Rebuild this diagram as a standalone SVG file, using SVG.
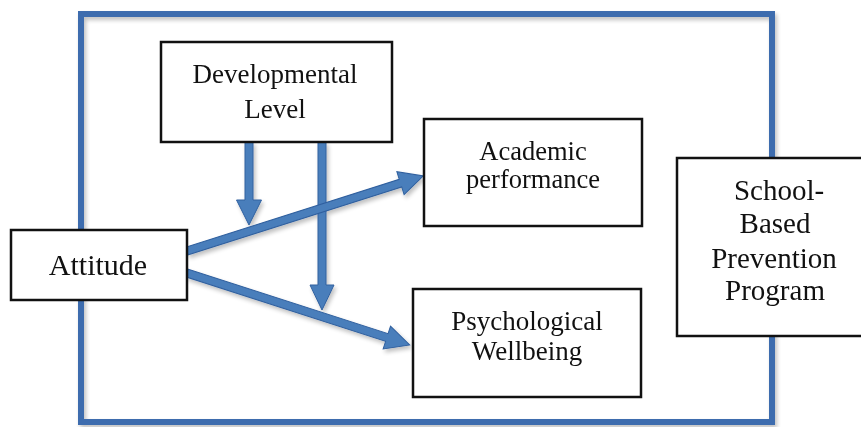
<svg xmlns="http://www.w3.org/2000/svg" width="861" height="427" viewBox="0 0 861 427">
  <defs>
    <filter id="soft" x="-10%" y="-10%" width="130%" height="130%">
      <feGaussianBlur in="SourceAlpha" stdDeviation="2"/>
      <feOffset dx="2" dy="3" result="b"/>
      <feComponentTransfer><feFuncA type="linear" slope="0.25"/></feComponentTransfer>
      <feMerge><feMergeNode/><feMergeNode in="SourceGraphic"/></feMerge>
    </filter>
  </defs>
  <style>
    .box { fill: #ffffff; stroke: #111111; stroke-width: 2.5; }
    .lbl { font-family: "Liberation Serif", "Times New Roman", serif; fill: #111111; text-anchor: middle; }
    .arrow { fill: #4a7ebb; stroke: #30609f; stroke-width: 1; }
    .frame { fill: none; stroke: #3c6cae; stroke-width: 6; }
  </style>
  <rect width="861" height="427" fill="#ffffff"/>

  <!-- outer program frame -->
  <rect class="frame" x="81" y="14" width="691" height="408" filter="url(#soft)"/>

  <!-- connectors -->
  <g id="connectors" filter="url(#soft)">
    <!-- Developmental Level to moderated path (short) -->
    <g transform="translate(249,142) rotate(90)">
      <path class="arrow" d="M0,-4 L58,-4 L58,-12.5 L83,0 L58,12.5 L58,4 L0,4 Z"/>
    </g>
    <!-- Developmental Level down to lower path -->
    <g transform="translate(322,142) rotate(90)">
      <path class="arrow" d="M0,-4 L143,-4 L143,-12 L168,0 L143,12 L143,4 L0,4 Z"/>
    </g>
    <!-- Attitude to Academic performance -->
    <g transform="translate(187,251) rotate(-17.63)">
      <path class="arrow" d="M0,-4 L224,-4 L224,-12 L248,0 L224,12 L224,4 L0,4 Z"/>
    </g>
    <!-- Attitude to Psychological Wellbeing -->
    <g transform="translate(187,273) rotate(17.89)">
      <path class="arrow" d="M0,-4 L210,-4 L210,-12 L234,0 L210,12 L210,4 L0,4 Z"/>
    </g>
  </g>

  <g id="developmental-level">
    <rect class="box" x="161" y="42" width="231" height="100"/>
    <text class="lbl" x="275" y="83" font-size="27">Developmental</text>
    <text class="lbl" x="275" y="118" font-size="27">Level</text>
  </g>

  <g id="attitude">
    <rect class="box" x="11" y="230" width="176" height="70"/>
    <text class="lbl" x="98" y="275" font-size="30">Attitude</text>
  </g>

  <g id="academic-performance">
    <rect class="box" x="424" y="119" width="218" height="107"/>
    <text class="lbl" x="533" y="160" font-size="26.5">Academic</text>
    <text class="lbl" x="533" y="188" font-size="26.5">performance</text>
  </g>

  <g id="psychological-wellbeing">
    <rect class="box" x="413" y="289" width="228" height="108"/>
    <text class="lbl" x="527" y="330" font-size="27">Psychological</text>
    <text class="lbl" x="527" y="360" font-size="27">Wellbeing</text>
  </g>

  <g id="school-based-prevention-program">
    <rect class="box" x="677" y="158" width="200" height="178"/>
    <text class="lbl" x="779" y="200" font-size="29">School-</text>
    <text class="lbl" x="775" y="233" font-size="29">Based</text>
    <text class="lbl" x="774" y="268" font-size="29">Prevention</text>
    <text class="lbl" x="775" y="300" font-size="29">Program</text>
  </g>
</svg>
